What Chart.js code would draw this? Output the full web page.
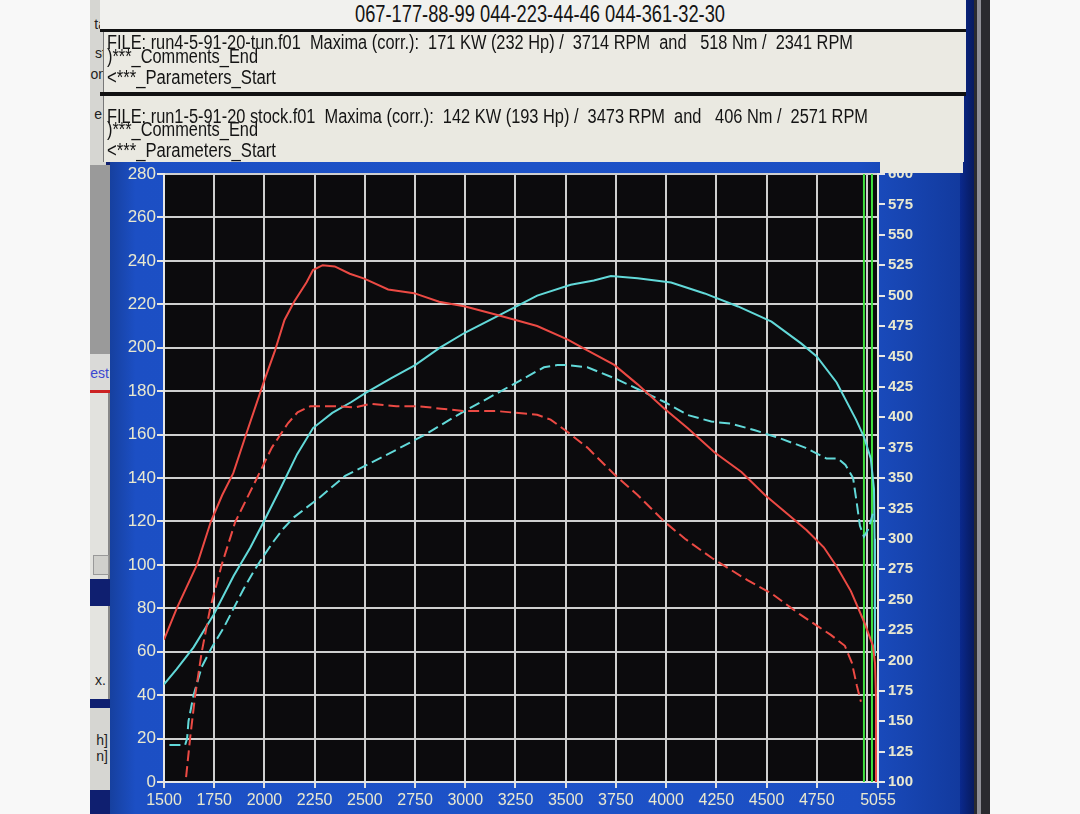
<!DOCTYPE html>
<html><head><meta charset="utf-8">
<script src="https://cdn.jsdelivr.net/npm/chart.js@4.4.1/dist/chart.umd.min.js"></script>
<style>
html,body{margin:0;padding:0;}
body{width:1080px;height:814px;position:relative;overflow:hidden;background:#f8f8f8;font-family:'Liberation Sans',Arial,sans-serif;}
.a{position:absolute;}
.t{position:absolute;white-space:pre;font-size:20px;line-height:20px;color:#141414;transform-origin:0 50%;}
.f{position:absolute;white-space:pre;font-size:14px;line-height:16px;color:#222;}
</style></head><body>
<!-- left UI column -->
<div class="a" style="left:90px;top:0;width:20px;height:814px;background:#0f1f70"></div>
<div class="a" style="left:90px;top:0;width:16px;height:165px;background:#d6d6d2;overflow:hidden">
  <div class="f" style="right:0;top:16px">ta</div>
  <div class="f" style="right:0;top:45px">st</div>
  <div class="f" style="right:0;top:66px">on</div>
  <div class="f" style="right:0;top:106px">e.</div>
</div>
<div class="a" style="left:90px;top:165px;width:20px;height:189px;background:#9a9a9a"></div>
<div class="a" style="left:90px;top:354px;width:20px;height:36px;background:#dadad8;overflow:hidden"><div class="f" style="right:1px;top:11px;color:#3a48d0">est</div></div>
<div class="a" style="left:90px;top:390px;width:20px;height:3px;background:#cc2222"></div>
<div class="a" style="left:90px;top:393px;width:18px;height:186px;background:#e2e2de;border-right:2px solid #888"></div>
<div class="a" style="left:93px;top:555px;width:14px;height:18px;background:#d0d0cc;border:1px solid #999"></div>
<div class="a" style="left:90px;top:606px;width:18px;height:93px;background:#e4e4e0;border-right:2px solid #888;overflow:hidden"><div class="f" style="right:2px;top:66px">x.</div></div>
<div class="a" style="left:90px;top:708px;width:20px;height:82px;background:#d6d6d2;overflow:hidden"><div class="f" style="right:2px;top:24px">h]</div><div class="f" style="right:2px;top:40px">n]</div></div>
<!-- right bezel -->
<div class="a" style="left:958px;top:0;width:16px;height:814px;background:linear-gradient(to right,#0b2b94,#071a5e)"></div>
<div class="a" style="left:974px;top:0;width:16px;height:814px;background:#2a2a2f"></div>
<div class="a" style="left:977px;top:0;width:4px;height:814px;background:#8e8e96"></div>
<!-- chart -->
<canvas id="c" width="850" height="652" class="a" style="left:110px;top:162px;background:linear-gradient(to right,#16409f 0%,#1c4fc4 3%,#1d52c8 50%,#1b4ec2 88%,#123a9e 100%)"></canvas>
<!-- header -->
<div class="a" style="left:100px;top:0;width:866px;height:30px;background:#f1f1ee"></div>
<div class="t fit" data-w="370" style="left:355px;top:2px;font-size:23px;line-height:24px">067-177-88-99 044-223-44-46 044-361-32-30</div>
<div class="a" style="left:100px;top:29px;width:866px;height:3px;background:#111"></div>
<div class="a" style="left:103px;top:32px;width:862px;height:60px;background:#ebeae3;border-left:1px solid #777"></div>
<div class="a" style="left:100px;top:92px;width:866px;height:4px;background:#111"></div>
<div class="a" style="left:103px;top:96px;width:860px;height:66px;background:#eae9e1;border-left:1px solid #777"></div>
<div class="a" style="left:880px;top:160px;width:83px;height:13px;background:#eae9e1"></div>
<div class="t fit" data-w="746" style="left:107px;top:32px">FILE: run4-5-91-20-tun.f01  Maxima (corr.):  171 KW (232 Hp) /  3714 RPM  and   518 Nm /  2341 RPM</div>
<div class="t fit" data-w="151" style="left:107px;top:46px">)***_Comments_End</div>
<div class="t fit" data-w="169" style="left:107px;top:67px">&lt;***_Parameters_Start</div>
<div class="t fit" data-w="761" style="left:107px;top:106px">FILE: run1-5-91-20 stock.f01  Maxima (corr.):  142 KW (193 Hp) /  3473 RPM  and   406 Nm /  2571 RPM</div>
<div class="t fit" data-w="151" style="left:107px;top:119px">)***_Comments_End</div>
<div class="t fit" data-w="169" style="left:107px;top:140px">&lt;***_Parameters_Start</div>
<script>
document.querySelectorAll('.fit').forEach(el => {
  const w = el.getBoundingClientRect().width;
  el.style.transform = 'scaleX(' + (parseFloat(el.dataset.w) / w) + ')';
});

// ---- data ----
const rpmTicks = [1500,1750,2000,2250,2500,2750,3000,3250,3500,3750,4000,4250,4500,4750,5000,5055];
const powerAxis = {min:0, max:280, step:20};
const torqueAxis = {min:100, max:600, step:25};

const tunTorqueRpm = [1500,1564,1665,1733,1790,1845,1909,1997,2053,2100,2148,2210,2242,2290,2350,2425,2497,2616,2745,2870,3000,3160,3358,3508,3608,3742,3858,3992,4108,4242,4375,4492,4600,4700,4785,4850,4920,4985,5030,5040,5045,5045];
const tunTorqueNm  = [217,243,279,314,336,354,386,429,455,480,495,511,521,525,524,518,514,505,502,495,491,484,475,464,455,443,427,407,391,371,355,336,321,307,293,277,257,232,212,198,170,100];

const stockTorqueRpm = [1610,1630,1655,1688,1730,1788,1855,1957,2037,2117,2165,2228,2354,2450,2530,2657,2770,2880,3000,3160,3358,3425,3508,3608,3742,3858,3992,4094,4230,4405,4525,4665,4765,4820,4890,4925,4950,4970];
const stockTorqueNm  = [104,136,171,207,243,279,314,348,375,395,404,409,409,408,411,409,409,407,405,405,402,398,388,375,353,336,314,300,284,266,255,238,227,221,212,198,179,166];

const tunPowerRpm = [1500,1563,1647,1747,1847,1930,1997,2084,2163,2242,2338,2433,2500,2632,2750,2874,3000,3192,3358,3525,3640,3725,3858,4025,4192,4358,4525,4672,4750,4849,4945,4985,5019,5035,5038,5040,5040];
const tunPowerHp  = [45,52,62,77,95,108,120,136,151,163,170,175,179,186,192,200,207,216,224,229,231,233,232,230,225,219,212,202,196,184,167,159,149,135,112,80,58];

const stockPowerRpm = [1527,1605,1615,1622,1647,1688,1738,1797,1847,1897,1947,1988,2047,2097,2148,2275,2402,2530,2657,2800,2943,3000,3158,3275,3392,3458,3508,3608,3742,3858,3992,4108,4225,4325,4442,4575,4692,4798,4855,4893,4931,4950,4965,4985,5010,5030];
const stockPowerHp  = [17,17,20,28,40,53,62,71,80,89,97,103,111,117,122,131,141,147,153,160,168,171,179,185,191,192,192,191,186,181,175,169,166,165,162,158,154,149,149,146,140,128,118,113,117,124];

const markerRpm = [4985, 5025];

// ---- build ----
const pts = (xs, ys) => xs.map((x, i) => ({x, y: ys[i]}));
const RED = '#ec4a44', CYAN = '#62d9d9', GREEN = '#3fe23f';
const TICK = '#e9e8cf', GRID = '#cfcfcf';

const datasets = [
  {data: pts(tunTorqueRpm, tunTorqueNm), yAxisID: 'yR', borderColor: RED, borderWidth: 2},
  {data: pts(stockTorqueRpm, stockTorqueNm), yAxisID: 'yR', borderColor: RED, borderWidth: 2, borderDash: [11,5]},
  {data: pts(tunPowerRpm, tunPowerHp), yAxisID: 'yL', borderColor: CYAN, borderWidth: 2},
  {data: pts(stockPowerRpm, stockPowerHp), yAxisID: 'yL', borderColor: CYAN, borderWidth: 2, borderDash: [11,5]},
].concat(markerRpm.map(m => ({data: [{x: m, y: powerAxis.min}, {x: m, y: powerAxis.max}], yAxisID: 'yL', borderColor: GREEN, borderWidth: 2})));

const plotBg = {
  id: 'plotBg',
  beforeDraw(chart) {
    const {ctx, chartArea: a} = chart;
    ctx.save(); ctx.fillStyle = '#0c0b0d'; ctx.fillRect(a.left, a.top, a.right - a.left, a.bottom - a.top); ctx.restore();
  }
};

Chart.defaults.font.family = "'Liberation Sans',Arial,sans-serif";

new Chart(document.getElementById('c'), {
  type: 'line',
  data: {datasets},
  plugins: [plotBg],
  options: {
    responsive: false, animation: false, devicePixelRatio: 1,
    layout: {padding: {top: 9, left: 0, right: 0, bottom: 0}},
    elements: {point: {radius: 0}, line: {tension: 0}},
    plugins: {legend: {display: false}, tooltip: {enabled: false}},
    scales: {
      x: {
        type: 'linear', min: rpmTicks[0], max: rpmTicks[rpmTicks.length - 1],
        afterBuildTicks: s => { s.ticks = rpmTicks.map(v => ({value: v})); },
        afterFit: s => { s.height = 32; },
        ticks: {autoSkip: false, maxRotation: 0, color: TICK, font: {size: 16}, padding: 3,
                callback: v => (v === 5000 ? '' : String(v))},
        grid: {color: GRID, lineWidth: 2, tickLength: 6,
               tickColor: c => (c.tick && c.tick.value === 5000 ? 'rgba(0,0,0,0)' : '#e0e0e0')},
        border: {color: '#e6e6e6', width: 2}
      },
      yL: {
        position: 'left', min: powerAxis.min, max: powerAxis.max,
        afterFit: s => { s.width = 54; },
        ticks: {stepSize: powerAxis.step, color: TICK, font: {size: 17}, padding: 1},
        grid: {color: GRID, lineWidth: 2, tickLength: 7, tickColor: '#e6e6e6'},
        border: {color: '#e6e6e6', width: 2}
      },
      yR: {
        position: 'right', min: torqueAxis.min, max: torqueAxis.max,
        afterFit: s => { s.width = 82; },
        ticks: {stepSize: torqueAxis.step, color: TICK, font: {size: 15, weight: 'bold'}, padding: 3},
        grid: {drawOnChartArea: false, tickLength: 7, tickColor: '#e6e6e6', lineWidth: 2},
        border: {color: '#e6e6e6', width: 2}
      }
    }
  }
});
</script>
</body></html>
